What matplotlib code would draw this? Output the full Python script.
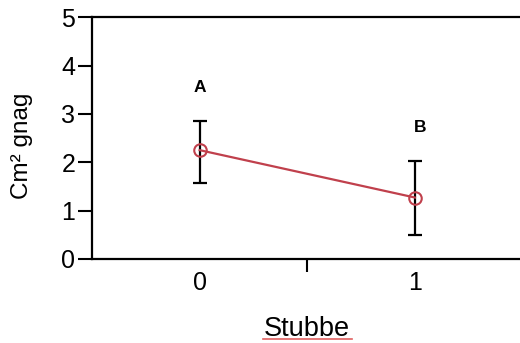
import matplotlib.pyplot as plt
from matplotlib.lines import Line2D

# --- Data ---
groups = [0, 1]
means = [2.25, 1.27]
upper = [2.86, 2.02]
lower = [1.57, 0.50]
letters = ["A", "B"]
letter_y = [3.55, 2.72]
y_ticks = [0, 1, 2, 3, 4, 5]

plt.rcParams["font.family"] = ["Liberation Sans", "DejaVu Sans"]

fig = plt.figure(figsize=(5.2, 3.43), dpi=100)
ax = fig.add_axes([0.177, 0.245, 0.828, 0.705])

err_low = [m - l for m, l in zip(means, lower)]
err_high = [u - m for m, u in zip(means, upper)]

# error bars first, then line + open markers on top
ax.errorbar(groups, means, yerr=[err_low, err_high], fmt="none",
            ecolor="black", elinewidth=1.6, capsize=5, capthick=1.6, zorder=2)
ax.plot(groups, means, color="#c0404c", lw=1.6, marker="o", ms=9,
        mfc="none", mec="#c0404c", mew=1.5, zorder=3)

for g, lab, ly in zip(groups, letters, letter_y):
    ax.text(g + (0.025 if g else 0), ly, lab, ha="center", va="center",
            fontsize=12.5, fontweight="bold")

ax.set_xlim(-0.5, 1.5)
ax.set_ylim(0, 5)
ax.set_yticks(y_ticks)
ax.set_xticks(groups)
ax.set_xticks([0.5], minor=True)
ax.tick_params(axis="x", which="major", length=0, labelsize=18, pad=9)
ax.tick_params(axis="x", which="minor", length=9, width=1.5, direction="out")
ax.tick_params(axis="y", length=10, width=1.5, labelsize=18, pad=2)

for s in ["left", "bottom", "top"]:
    ax.spines[s].set_linewidth(1.6)
ax.spines["right"].set_visible(False)

ax.set_ylabel("Cm² gnag", fontsize=17.5)
ax.yaxis.set_label_coords(-0.137, 0.467)
ax.set_xlabel("Stubbe", fontsize=19.5, va="top")
ax.xaxis.set_label_coords(0.498, -0.236)

# red spell-check underline under the x label
fig.add_artist(Line2D([0.506, 0.677], [0.011, 0.011], color="#e06060", lw=1.2,
                      transform=fig.transFigure))

fig.savefig("out.png", dpi=100)
